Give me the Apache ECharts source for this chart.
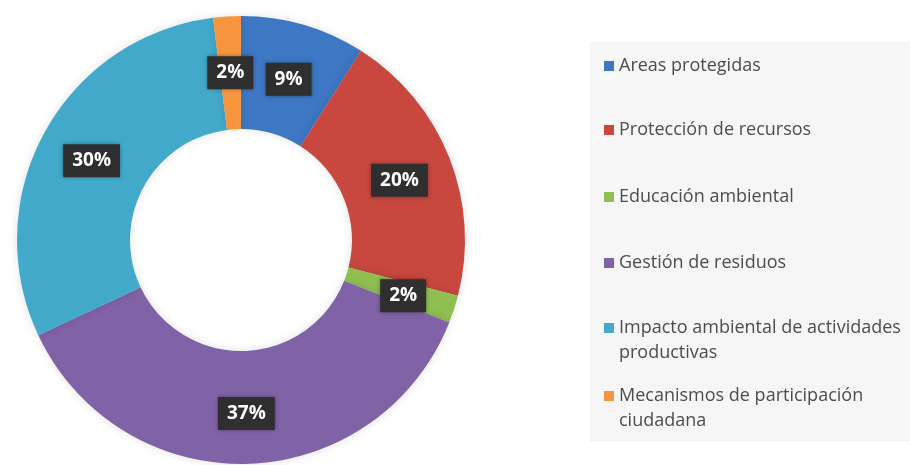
<!DOCTYPE html>
<html>
<head>
<meta charset="utf-8">
<script src="https://cdn.jsdelivr.net/npm/echarts@6/dist/echarts.min.js"></script>
<style>
  html, body { margin: 0; padding: 0; background: #ffffff; }
  #chart { width: 910px; height: 465px; }
</style>
</head>
<body>
<div id="chart"></div>
<script>
// Distribución de proyectos por tema (porcentaje)
const categories = [
  'Areas protegidas',
  'Protección de recursos',
  'Educación ambiental',
  'Gestión de residuos',
  'Impacto ambiental de actividades productivas',
  'Mecanismos de participación ciudadana'
];
const values = [9, 20, 2, 37, 30, 2];
// how each legend entry wraps onto lines
const legendLines = [
  ['Areas protegidas'],
  ['Protección de recursos'],
  ['Educación ambiental'],
  ['Gestión de residuos'],
  ['Impacto ambiental de actividades', 'productivas'],
  ['Mecanismos de participación', 'ciudadana']
];
const colors = ['#3e77c4', '#c8473f', '#8fbf50', '#8062a6', '#43a9cb', '#f7953f'];

// vertical centre of each legend entry's first line
const legendRowY = [66, 130, 197, 263, 328, 396];
const lineH = 25;

const chart = echarts.init(document.getElementById('chart'), null, { renderer: 'canvas' });

// One legend block per entry so that wrapped entries keep their marker on the
// first line: blank leading lines put that first line in the block's middle,
// which is where the marker sits.
const legends = categories.map((name, i) => {
  const lines = legendLines[i];
  const extra = lines.length - 1;
  const blank = new Array(extra).fill('');
  return {
    data: [name],
    orient: 'vertical',
    left: 604,
    top: legendRowY[i] - lineH / 2 - extra * lineH,
    padding: 0,
    itemGap: 0,
    icon: 'rect',
    itemWidth: 10,
    itemHeight: 10,
    itemStyle: { borderWidth: 0 },
    selectedMode: false,
    formatter: () => blank.concat(lines).join('\n'),
    textStyle: {
      fontFamily: 'Open Sans',
      fontSize: 18,
      color: '#4d4d4d',
      lineHeight: lineH
    }
  };
});

chart.setOption({
  animation: false,
  color: colors,
  graphic: [{
    type: 'rect',
    z: -10,
    shape: { x: 590, y: 42, width: 330, height: 400 },
    style: { fill: '#f6f6f6' }
  }],
  legend: legends,
  series: [{
    type: 'pie',
    center: [241, 240],
    radius: [111, 224],
    startAngle: 90,
    clockwise: true,
    avoidLabelOverlap: false,
    itemStyle: {
      shadowBlur: 10,
      shadowColor: 'rgba(0,0,0,0.12)'
    },
    label: {
      show: true,
      position: 'inside',
      formatter: '{c}%',
      offset: [0, 3],
      fontFamily: 'Open Sans',
      fontWeight: 'bold',
      fontSize: 19,
      color: '#ffffff',
      backgroundColor: '#2f2f2f',
      padding: [8, 9, 6, 9],
      shadowBlur: 4,
      shadowColor: 'rgba(0,0,0,0.35)'
    },
    labelLine: { show: false },
    emphasis: { disabled: true },
    data: categories.map((name, i) => ({ name: name, value: values[i] }))
  }]
});
</script>
</body>
</html>
